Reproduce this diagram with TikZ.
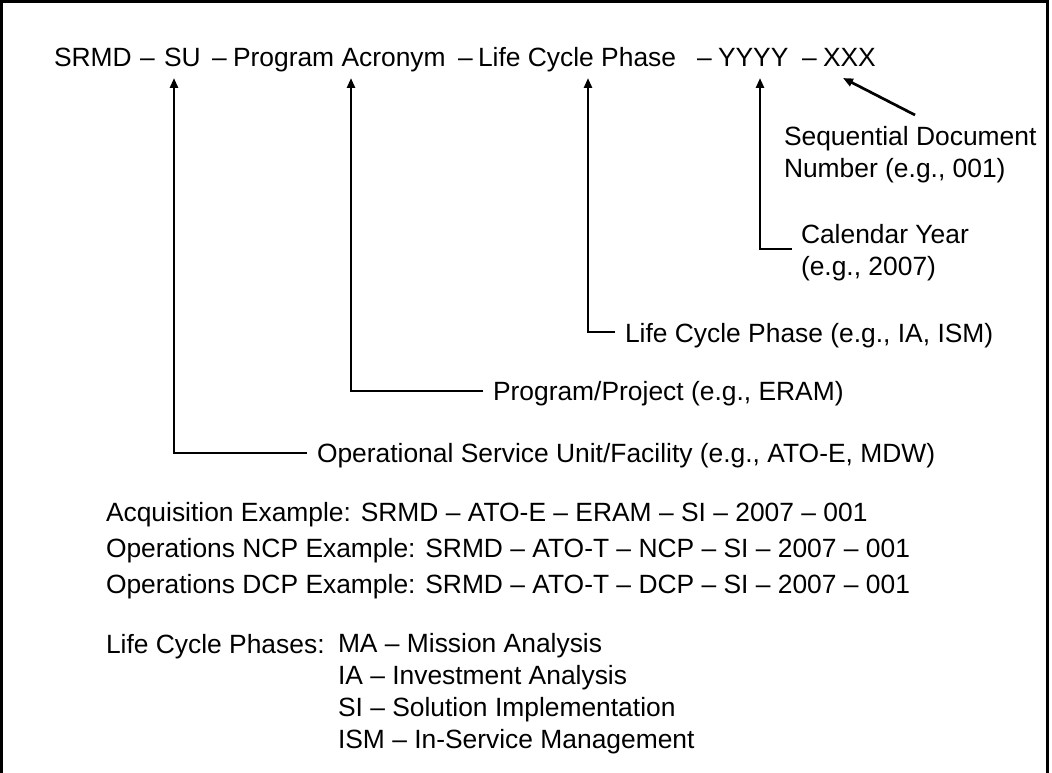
\documentclass[tikz,border=0pt]{standalone}
\usepackage{fontspec}
\setmainfont{Liberation Sans}
\usetikzlibrary{arrows.meta}
\begin{document}
\begin{tikzpicture}[x=1pt,y=-1pt,
  every node/.style={inner sep=0pt, outer sep=0pt, font=\fontsize{26.4}{32}\selectfont},
  tok/.style={anchor=base west},
  lbl/.style={anchor=base west, align=left},
  conn/.style={line width=2.7pt, -{Triangle[length=10pt,width=8pt]}},
  frame/.style={line width=3pt}]
\useasboundingbox (0,0) rectangle (1052,773);
% frame (open at the bottom)
\draw[frame] (1.5,775) -- (1.5,1.5) -- (1047,1.5) -- (1047,775);
% code line
\node[tok] (srmd) at (54,67) {SRMD};
\node[tok] (d1)   at (140,67) {–};
\node[tok] (su)   at (164,67) {SU};
\node[tok] (d2)   at (212,67) {–};
\node[tok] (prog) at (233,67) {Program Acronym};
\node[tok] (d3)   at (458,67) {–};
\node[tok] (lcp)  at (478,67) {Life Cycle Phase};
\node[tok] (d4)   at (697,67) {–};
\node[tok] (yyyy) at (718,67) {YYYY};
\node[tok] (d5)   at (802,67) {–};
\node[tok] (xxx)  at (823,67) {XXX};
% arrow tips
\coordinate (tSU) at (174,78);
\coordinate (tPA) at (351,78);
\coordinate (tLC) at (588,78);
\coordinate (tYY) at (760,78);
\coordinate (tXX) at (843,78);
% labels (base = baseline of the last line)
\node[lbl] (seq) at (784,177) {Sequential Document\\Number (e.g., 001)};
\node[lbl] (cal) at (801,275) {Calendar Year\\(e.g., 2007)};
\node[lbl] (lcl) at (625,342) {Life Cycle Phase (e.g., IA, ISM)};
\node[lbl] (ppl) at (493,400) {Program/Project (e.g., ERAM)};
\node[lbl] (osu) at (317,462) {Operational Service Unit/Facility (e.g., ATO-E, MDW)};
% connectors
\draw[conn] ([shift={(131,-62)}]seq.base west) -- (tXX);
\draw[conn] ([shift={(-9,-26)}]cal.base west) -| (tYY);
\draw[conn] ([shift={(-10,-10)}]lcl.base west) -| (tLC);
\draw[conn] ([shift={(-10,-9)}]ppl.base west) -| (tPA);
\draw[conn] ([shift={(-10,-9)}]osu.base west) -| (tSU);
% examples
\node[tok] (ex1) at (106,521) {Acquisition Example: SRMD – ATO-E – ERAM – SI – 2007 – 001};
\node[tok] (ex2) at (106,557) {Operations NCP Example: SRMD – ATO-T – NCP – SI – 2007 – 001};
\node[tok] (ex3) at (106,593) {Operations DCP Example: SRMD – ATO-T – DCP – SI – 2007 – 001};
% phases
\node[tok] (lcph) at (106,653) {Life Cycle Phases:};
\node[lbl] (phl) at (338,748) {MA – Mission Analysis\\IA – Investment Analysis\\SI – Solution Implementation\\ISM – In-Service Management};
\end{tikzpicture}
\end{document}
